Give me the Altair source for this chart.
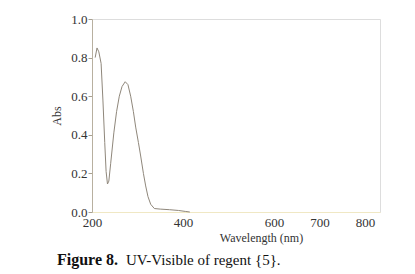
import altair as alt
import pandas as pd

wavelength = [207, 211, 215, 220, 224, 228, 231, 234, 237, 241, 248, 254, 260, 266, 273, 279, 285, 291, 296, 302, 307, 313, 318, 323, 329, 337, 350, 370, 390, 405, 415]
absorbance = [0.80, 0.85, 0.83, 0.77, 0.58, 0.36, 0.21, 0.145, 0.16, 0.25, 0.41, 0.52, 0.60, 0.65, 0.675, 0.66, 0.60, 0.52, 0.44, 0.36, 0.29, 0.20, 0.135, 0.08, 0.04, 0.018, 0.015, 0.012, 0.008, 0.003, 0.0]
x_ticks = [200, 400, 600, 700, 800]
y_ticks = [0.0, 0.2, 0.4, 0.6, 0.8, 1.0]
caption_bold = ["Figure 8."]
caption_rest = ["UV-Visible of regent {5}."]

df = pd.DataFrame({"wl": wavelength, "abs": absorbance})

W, H = 288, 193
FONT = "Liberation Serif"

line = alt.Chart(df).mark_line(color="#8f877b", strokeWidth=1).encode(
    x=alt.X("wl:Q", scale=alt.Scale(domain=[200, 833], nice=False, zero=False),
            axis=alt.Axis(values=x_ticks, title="Wavelength (nm)", grid=False,
                          domainColor="#f0e8c4", ticks=False, labelPadding=4,
                          labelFont=FONT, labelFontSize=13, labelColor="#333333",
                          titleFont=FONT, titleFontSize=12, titleFontWeight="normal",
                          titleColor="#333333", titlePadding=3, titleX=169,
                          labelFlush=False)),
    y=alt.Y("abs:Q", scale=alt.Scale(domain=[0, 1.0], nice=False),
            axis=alt.Axis(values=y_ticks, format=".1f", title="Abs", grid=False,
                          domainColor="#b8b0a0", tickColor="#a8a090", tickSize=4,
                          labelFont=FONT, labelFontSize=13, labelColor="#333333",
                          labelPadding=1,
                          titleFont=FONT, titleFontSize=12, titleFontWeight="normal",
                          titleColor="#333333", titlePadding=7)),
)

cap1 = alt.Chart(pd.DataFrame({"t": caption_bold})).mark_text(
    font=FONT, fontSize=16, fontWeight="bold", align="left", baseline="middle", color="#111111"
).encode(text="t:N", x=alt.value(-35), y=alt.value(241))

cap2 = alt.Chart(pd.DataFrame({"t": caption_rest})).mark_text(
    font=FONT, fontSize=15, align="left", baseline="middle", color="#111111"
).encode(text="t:N", x=alt.value(34), y=alt.value(241))

chart = alt.layer(line, cap1, cap2).properties(
    width=W, height=H,
    autosize=alt.AutoSizeParams(type="none"),
    padding={"left": 92, "top": 19, "right": 35, "bottom": 62},
).configure_view(stroke=None).configure(background="white")

chart.save("out.html", embed_options={"renderer": "svg", "actions": False})
